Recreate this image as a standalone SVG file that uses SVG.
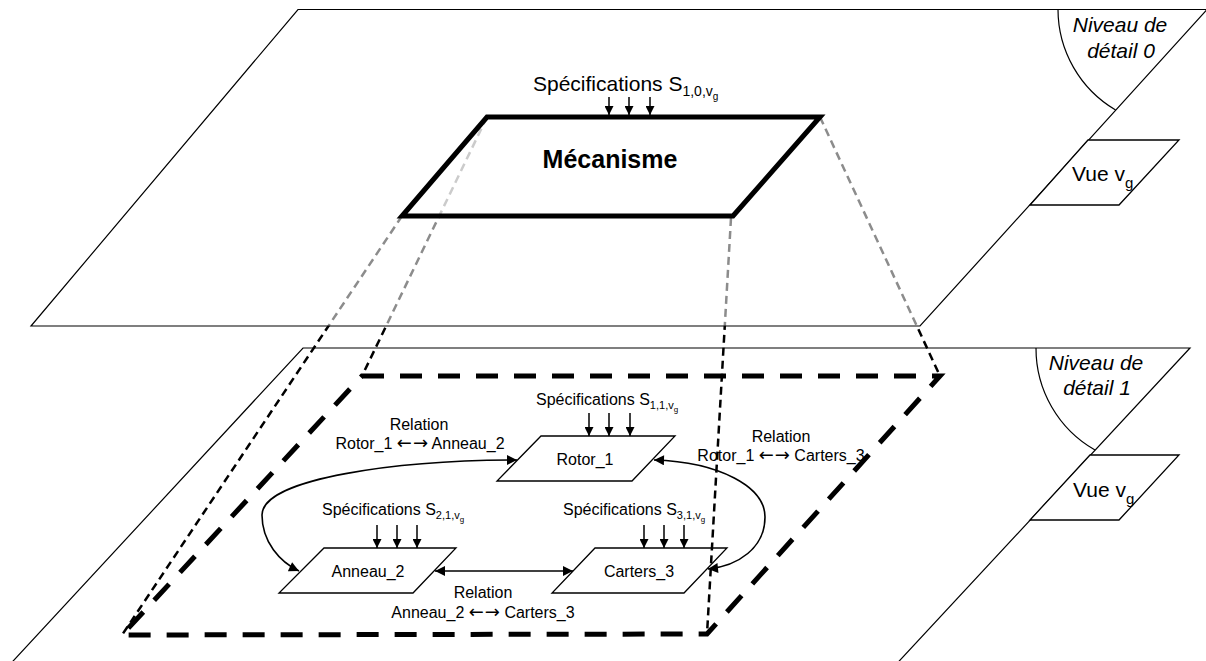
<svg xmlns="http://www.w3.org/2000/svg" width="1206" height="661" viewBox="0 0 1206 661">
  <defs>
    <style>
      text { font-family: "Liberation Sans", Arial, sans-serif; fill: #000; }
      .plane { fill: #fff; stroke: #000; stroke-width: 1.2; }
      .plane-top { fill: #fff; fill-opacity: 0.55; stroke: #000; stroke-width: 1.2; }
      .arc { fill: none; stroke: #000; stroke-width: 1.2; }
      .node { fill: #fff; stroke: #000; stroke-width: 1.3; }
      .mech { fill: #fff; fill-opacity: 0.55; stroke: #000; stroke-width: 5; }
      .frame { fill: none; stroke: #000; stroke-width: 5; stroke-dasharray: 22 16; }
      .proj { fill: none; stroke: #000; stroke-width: 2.5; stroke-dasharray: 8 5; }
      .spec-arrow { fill: none; stroke: #000; stroke-width: 1.5; marker-end: url(#head-s); }
      .rel { fill: none; stroke: #000; stroke-width: 1.6; marker-start: url(#head-r); marker-end: url(#head-r); }
      .lvl { font-size: 21px; font-style: italic; text-anchor: middle; }
      .view { font-size: 21px; }
      .lbl { font-size: 16px; text-anchor: middle; }
      .spec { font-size: 16px; }
      .dir { font-family: "DejaVu Sans", sans-serif; font-size: 18px; }
    </style>
    <marker id="head-s" viewBox="0 0 10 10" refX="10" refY="5" markerUnits="userSpaceOnUse" markerWidth="9" markerHeight="9" orient="auto">
      <path d="M0,0 L10,5 L0,10 z" fill="#000"/>
    </marker>
    <marker id="head-r" viewBox="0 0 10 10" refX="10" refY="5" markerUnits="userSpaceOnUse" markerWidth="12" markerHeight="10" orient="auto-start-reverse">
      <path d="M0,0 L10,5 L0,10 z" fill="#000"/>
    </marker>
  </defs>

  <!-- level 1 plane -->
  <g id="plane-1">
    <polygon class="plane" points="303,348 1190,348 863,700 -23,700"/>
    <path class="arc" d="M1036,348 A117,117 0 0 0 1095,450"/>
    <text class="lvl" x="1096" y="370">Niveau de</text>
    <text class="lvl" x="1097" y="395">détail 1</text>
  </g>
  <g id="view-1">
    <polygon class="node" points="1090,455 1179,455 1119,520 1030,520"/>
    <text class="view" x="1073" y="497">Vue v<tspan font-size="15" dy="7">g</tspan></text>
  </g>

  <!-- decomposition frame of level 1 -->
  <g id="frame-1">
    <polygon class="frame" points="362,376 940,376 707,634 122,635"/>
  </g>

  <g id="node-rotor1">
    <polygon class="node" points="541,436 675,436 632,481 497,481"/>
    <text class="lbl" x="585" y="465">Rotor_1</text>
    <text class="spec" x="536" y="405">Spécifications S<tspan font-size="11" dy="4">1,1,v</tspan><tspan font-size="8" dy="3">g</tspan></text>
    <path class="spec-arrow" d="M589,413 V436"/>
    <path class="spec-arrow" d="M609,413 V436"/>
    <path class="spec-arrow" d="M630,413 V436"/>
  </g>
  <g id="node-anneau2">
    <polygon class="node" points="324,548 456,548 413,593 279,593"/>
    <text class="lbl" x="368" y="577">Anneau_2</text>
    <text class="spec" x="322" y="515">Spécifications S<tspan font-size="11" dy="4">2,1,v</tspan><tspan font-size="8" dy="3">g</tspan></text>
    <path class="spec-arrow" d="M377,525 V548"/>
    <path class="spec-arrow" d="M397,525 V548"/>
    <path class="spec-arrow" d="M417,525 V548"/>
  </g>
  <g id="node-carters3">
    <polygon class="node" points="595,548 727,548 684,593 552,593"/>
    <text class="lbl" x="639" y="577">Carters_3</text>
    <text class="spec" x="563" y="515">Spécifications S<tspan font-size="11" dy="4">3,1,v</tspan><tspan font-size="8" dy="3">g</tspan></text>
    <path class="spec-arrow" d="M644,525 V548"/>
    <path class="spec-arrow" d="M664,525 V548"/>
    <path class="spec-arrow" d="M684,525 V548"/>
  </g>

  <!-- relations and projections -->
  <g id="connectors">
    <path class="rel" d="M517,460 C400,460 262,478 262,515 C262,542 280,562 299,571"/>
    <path class="rel" d="M654,460 C720,462 765,487 765,517 C765,548 738,566 708,569"/>
    <path class="rel" d="M435,571 H573"/>
    <text class="lbl" x="419" y="430">Relation</text>
    <text class="lbl" x="420" y="449">Rotor_1 <tspan class="dir">←</tspan><tspan class="dir" dx="1">→</tspan> Anneau_2</text>
    <text class="lbl" x="781" y="442">Relation</text>
    <text class="lbl" x="781" y="461">Rotor_1 <tspan class="dir">←</tspan><tspan class="dir" dx="1">→</tspan> Carters_3</text>
    <text class="lbl" x="483" y="598">Relation</text>
    <text class="lbl" x="483" y="618">Anneau_2 <tspan class="dir">←</tspan><tspan class="dir" dx="1">→</tspan> Carters_3</text>
    <path class="proj" d="M402,216 L122,635"/>
    <path class="proj" d="M487,117 L362,376"/>
    <path class="proj" d="M731,218 L707,634"/>
    <path class="proj" d="M820,117 L940,376"/>
  </g>

  <!-- level 0 plane (translucent, projections show through in grey) -->
  <g id="plane-0">
    <polygon class="plane-top" points="298,9.5 1207,9.5 920,326 31,326"/>
    <path class="arc" d="M1058,9.5 A117,117 0 0 0 1115.6,110"/>
    <text class="lvl" x="1120" y="32">Niveau de</text>
    <text class="lvl" x="1121" y="58">détail 0</text>
  </g>
  <g id="view-0">
    <polygon class="node" points="1088,140 1179,140 1119,205 1030,205"/>
    <text class="view" x="1072" y="181">Vue v<tspan font-size="15" dy="7">g</tspan></text>
  </g>

  <g id="node-mecanisme">
    <polygon class="mech" points="487,117 820,117 733,216 402,216"/>
    <text x="610" y="168" font-size="25" font-weight="bold" text-anchor="middle">Mécanisme</text>
    <text x="533" y="91" font-size="21">Spécifications S<tspan font-size="14" dy="5">1,0,v</tspan><tspan font-size="10" dy="4">g</tspan></text>
    <path class="spec-arrow" d="M609,97 V115"/>
    <path class="spec-arrow" d="M629,97 V115"/>
    <path class="spec-arrow" d="M650,97 V115"/>
  </g>
</svg>
